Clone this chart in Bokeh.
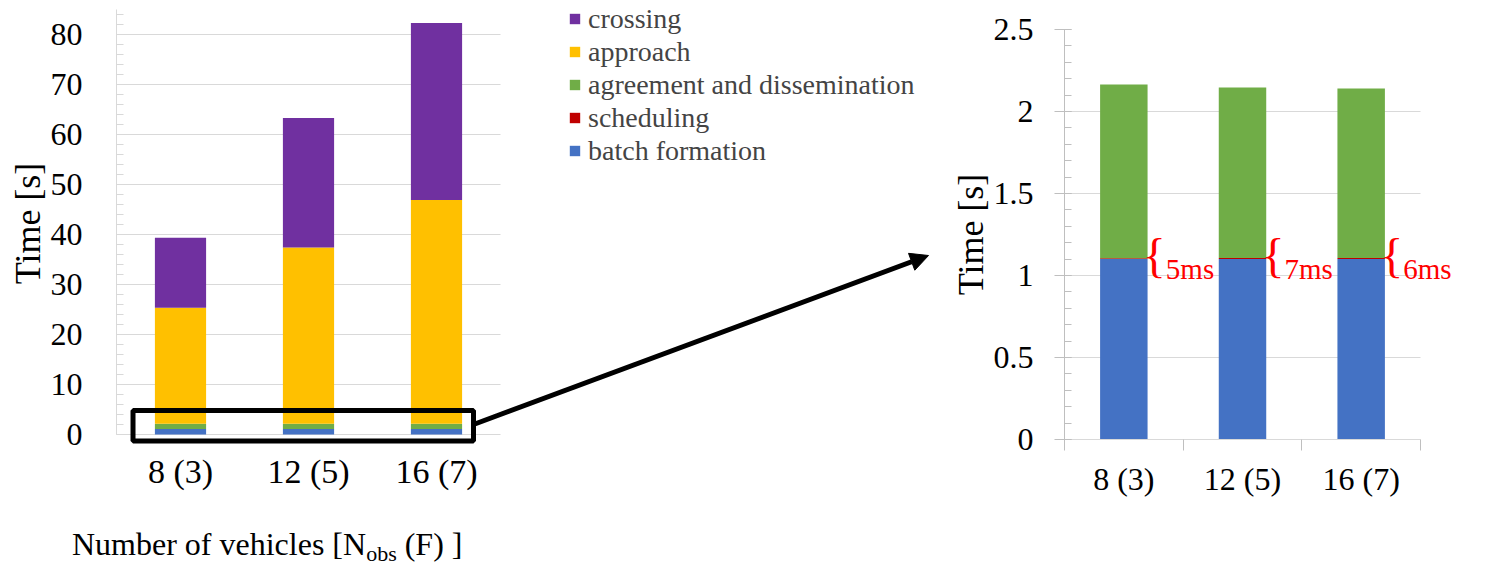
from bokeh.plotting import figure
from bokeh.models import (Range1d, FixedTicker, SingleIntervalTicker, Legend, LegendItem, Arrow,
                          NormalHead, BoxAnnotation, Div)
from bokeh.layouts import row, column
from bokeh.embed import file_html
from bokeh.resources import INLINE
from bokeh.core.properties import value

# ---------------- data ----------------
categories = ["8 (3)", "12 (5)", "16 (7)"]
batch_formation = [1.10, 1.10, 1.10]
scheduling = [0.005, 0.007, 0.006]
agreement = [1.06, 1.04, 1.035]
approach = [23.2, 35.25, 44.75]
crossing = [14.0, 25.9, 35.4]

series_names = ["batch formation", "scheduling", "agreement and dissemination", "approach", "crossing"]
series_colors = ["#4472C4", "#C00000", "#70AD47", "#FFC000", "#7030A0"]
left_ticks_interval = 10
right_ticks_interval = 0.5

FONT = "Liberation Serif"
GRID = "#D9D9D9"
AXIS = "#BFBFBF"

n = len(categories)
centers = [i + 0.5 for i in range(n)]
edges = list(range(n + 1))
data = {"xc": centers, "batch formation": batch_formation, "scheduling": scheduling,
        "agreement and dissemination": agreement, "approach": approach, "crossing": crossing}


def limit_grid(p, grid, lo, hi):
    try:
        grid.cross_bounds = (lo, hi)
    except AttributeError:
        p.add_layout(BoxAnnotation(left=hi, fill_color="white", fill_alpha=1, line_alpha=0,
                                   level="underlay"))


# ---------------- left chart ----------------
W1, H1 = 940, 510
p1 = figure(x_range=Range1d(0, 824 / 128), y_range=Range1d(-2.4, 86.8), title=None,
            width=W1, height=H1, output_backend="svg", toolbar_location=None,
            min_border_left=116, min_border_right=0, min_border_top=0, min_border_bottom=H1 - 446)
p1.outline_line_color = None
rs = p1.vbar_stack(series_names, x="xc", width=0.4, color=series_colors, source=data, line_color=None)

p1.xgrid.grid_line_color = None
p1.ygrid.grid_line_color = GRID
p1.ygrid.ticker = SingleIntervalTicker(interval=left_ticks_interval)
p1.ygrid.bounds = (0, 85)
limit_grid(p1, p1.ygrid, 0, n)

ya = p1.yaxis[0]
ya.bounds = (0, 85)
ya.ticker = SingleIntervalTicker(interval=left_ticks_interval, num_minor_ticks=5)
ya.axis_line_color = GRID
ya.major_tick_line_color = GRID
ya.minor_tick_line_color = GRID
ya.major_tick_in = 7
ya.major_tick_out = 0
ya.minor_tick_in = 7
ya.minor_tick_out = 0
ya.major_label_standoff = 34
ya.major_label_text_font = FONT
ya.major_label_text_font_size = "32px"
ya.major_label_text_color = "black"
ya.axis_label = "Time [s]"
ya.axis_label_text_font = FONT
ya.axis_label_text_font_size = "36px"
ya.axis_label_text_font_style = "normal"
ya.axis_label_text_color = "black"
ya.axis_label_standoff = 0

xa = p1.xaxis[0]
xa.bounds = (0, n)
xa.ticker = FixedTicker(ticks=centers, minor_ticks=[])
xa.major_label_overrides = {c: lab for c, lab in zip(centers, categories)}
xa.axis_line_color = None
xa.major_tick_line_color = None
xa.major_tick_out = 0
xa.minor_tick_out = 0
xa.major_label_standoff = 6
xa.major_label_text_font = FONT
xa.major_label_text_font_size = "34px"
xa.major_label_text_color = "black"

legend = Legend(items=[LegendItem(label=series_names[i], renderers=[rs[i]]) for i in range(4, -1, -1)],
                location=(452, 279), padding=0, margin=0, spacing=0,
                border_line_color=None, background_fill_alpha=0,
                label_text_font=FONT, label_text_font_size="28px",
                glyph_width=13, glyph_height=13, label_height=33, label_standoff=7)
p1.add_layout(legend)

box = BoxAnnotation(left=0.129, right=2.789, bottom=-1.3, top=4.8, fill_alpha=0,
                    line_color="black", line_alpha=1, line_width=5)
p1.add_layout(box)

arrow = Arrow(x_start=2.789, y_start=2.0, x_end=6.344, y_end=35.8, line_width=5, line_color="black",
              end=NormalHead(size=18, fill_color="black", line_color="black"))
p1.add_layout(arrow)

title_div = Div(
    text=('<div style="padding-left:72px;padding-top:17px;font-family:\'Liberation Serif\';'
          'font-size:32px;color:black;white-space:nowrap;line-height:1.107">'
          'Number of vehicles [N<span style="font-size:22px;vertical-align:-6px">obs</span> (F) ]</div>'),
    width=W1, height=564 - H1, margin=0)

# ---------------- right chart ----------------
W2, H2 = 1494 - W1, 564
right_names = series_names[:3]
right_colors = series_colors[:3]
px_per_cat = 356 / 3
p2 = figure(x_range=Range1d(0, 396 / px_per_cat), y_range=Range1d(0, 2.5), title=None,
            width=W2, height=H2, output_backend="svg", toolbar_location=None,
            min_border_left=124, min_border_right=W2 - 124 - 396,
            min_border_top=29, min_border_bottom=H2 - 439)
p2.outline_line_color = None
p2.vbar_stack(right_names, x="xc", width=0.4, color=right_colors, source=data, line_color=None)
p2.xgrid.grid_line_color = None
p2.ygrid.grid_line_color = GRID
p2.ygrid.ticker = SingleIntervalTicker(interval=right_ticks_interval)
limit_grid(p2, p2.ygrid, 0, n)

xb = p2.xaxis[0]
xb.bounds = (0, n)
xb.ticker = FixedTicker(ticks=centers, minor_ticks=edges)
xb.major_label_overrides = {c: lab for c, lab in zip(centers, categories)}
xb.axis_line_color = GRID
xb.major_tick_line_color = None
xb.major_tick_out = 0
xb.minor_tick_line_color = AXIS
xb.minor_tick_out = 11
xb.minor_tick_in = 0
xb.major_label_standoff = 10
xb.major_label_text_font = FONT
xb.major_label_text_font_size = "32px"
xb.major_label_text_color = "black"

yb = p2.yaxis[0]
yb.ticker = SingleIntervalTicker(interval=right_ticks_interval, num_minor_ticks=5)
yb.major_label_overrides = {0: "0", 1: "1", 2: "2"}
yb.axis_line_color = AXIS
yb.major_tick_line_color = AXIS
yb.minor_tick_line_color = AXIS
yb.major_tick_in = 7
yb.major_tick_out = 10
yb.minor_tick_in = 7
yb.minor_tick_out = 0
yb.major_label_standoff = 21
yb.major_label_text_font = FONT
yb.major_label_text_font_size = "32px"
yb.major_label_text_color = "black"
yb.axis_label = "Time [s]"
yb.axis_label_text_font = FONT
yb.axis_label_text_font_size = "36px"
yb.axis_label_text_font_style = "normal"
yb.axis_label_text_color = "black"
yb.axis_label_standoff = 0

mid = [b + s / 2 for b, s in zip(batch_formation, scheduling)]
ms_text = ["%dms" % round(s * 1000) for s in scheduling]
p2.text(x=centers, y=mid, text=["{"] * n, x_offset=19, y_offset=-3,
        text_font=value(FONT), text_font_size="48px", text_color="#FF0000",
        text_baseline="alphabetic", text_align="left")
p2.text(x=centers, y=mid, text=ms_text, x_offset=42, y_offset=10,
        text_font=value(FONT), text_font_size="29px", text_color="#FF0000",
        text_baseline="alphabetic", text_align="left")

layout = row(column(p1, title_div), p2)
open("out.html", "w").write(file_html(layout, INLINE))
